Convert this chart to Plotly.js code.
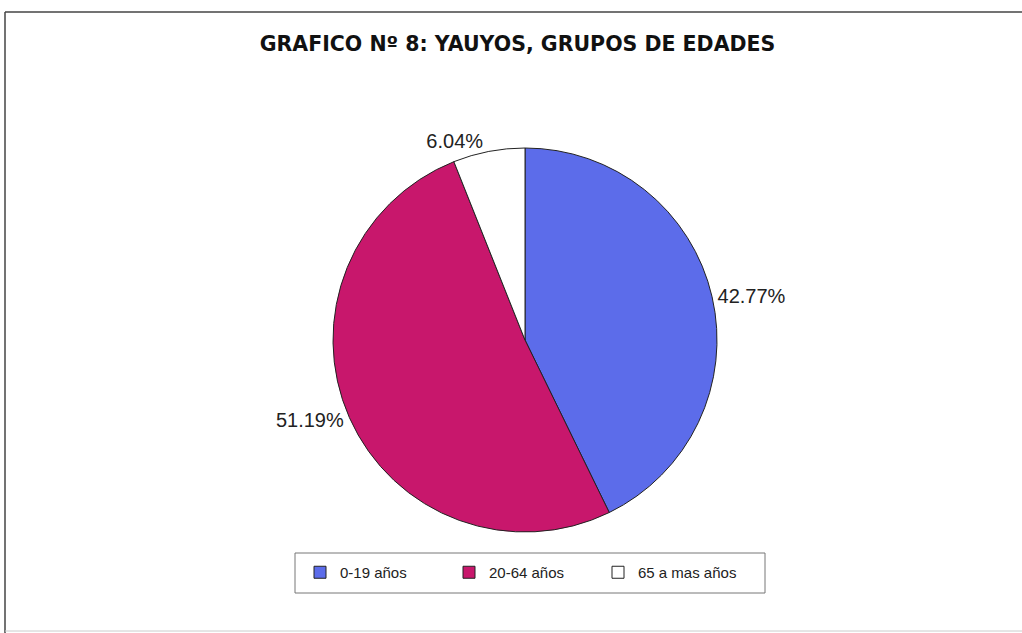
<!DOCTYPE html>
<html>
<head>
<meta charset="utf-8">
<script src="https://cdn.plot.ly/plotly-3.0.1.min.js"></script>
<style>html,body{margin:0;padding:0;background:#fff;}#chart{width:1022px;height:633px;}</style>
</head>
<body>
<div id="chart"></div>
<script>
const categories = ["0-19 años", "20-64 años", "65 a mas años"];
const percentages = [42.77, 51.19, 6.04];
const sliceColors = ["#5c6cea", "#c8176c", "#ffffff"];
const chartTitle = "GRAFICO Nº 8: YAUYOS, GRUPOS DE EDADES";

const W = 1022, H = 633;
const cx = 525, cy = 340, R = 192;

const trace = {
  type: "pie",
  labels: categories,
  values: percentages,
  sort: false,
  direction: "clockwise",
  rotation: 0,
  marker: {colors: sliceColors, line: {color: "#222", width: 1}},
  texttemplate: "%{value:.2f}%",
  textposition: "outside",
  textfont: {family: "Liberation Sans, Arial, sans-serif", size: 20, color: "#222"},
  hoverinfo: "label+percent",
  domain: {x: [(cx - R) / W, (cx + R) / W], y: [(H - cy - R) / H, (H - cy + R) / H]},
  automargin: false
};

const layout = {
  width: W, height: H,
  margin: {l: 0, r: 0, t: 0, b: 0},
  paper_bgcolor: "#fff",
  title: {
    text: "<b>" + chartTitle + "</b>",
    x: 517.5 / W, xanchor: "center", y: 1 - 44 / H, yanchor: "middle",
    font: {family: "DejaVu Sans, sans-serif", size: 20.5, color: "#111"}
  },
  showlegend: true,
  legend: {
    orientation: "h",
    x: 300 / W, xanchor: "left", y: 1 - 556 / H, yanchor: "top",
    borderwidth: 0, bgcolor: "rgba(0,0,0,0)",
    font: {family: "Liberation Sans, Arial, sans-serif", size: 15, color: "#222"},
    entrywidth: 104, entrywidthmode: "pixels",
    itemwidth: 30,
    traceorder: "normal"
  },
  shapes: [
    {type: "line", xref: "paper", yref: "paper", x0: 5 / W, x1: 1, y0: 1 - 12 / H, y1: 1 - 12 / H, line: {color: "#444", width: 1.5}},
    {type: "line", xref: "paper", yref: "paper", x0: 5 / W, x1: 5 / W, y0: 1 - 12 / H, y1: 0, line: {color: "#444", width: 1.5}},
    {type: "line", xref: "paper", yref: "paper", x0: 5 / W, x1: 1, y0: 2 / H, y1: 2 / H, line: {color: "#ccc", width: 1}},
    {type: "rect", xref: "paper", yref: "paper", x0: 295 / W, x1: 765 / W, y0: 1 - 553 / H, y1: 1 - 593 / H, line: {color: "#777", width: 1}, fillcolor: "rgba(0,0,0,0)"}
  ]
};

Plotly.newPlot("chart", [trace], layout, {displayModeBar: false, staticPlot: true});
</script>
</body>
</html>
